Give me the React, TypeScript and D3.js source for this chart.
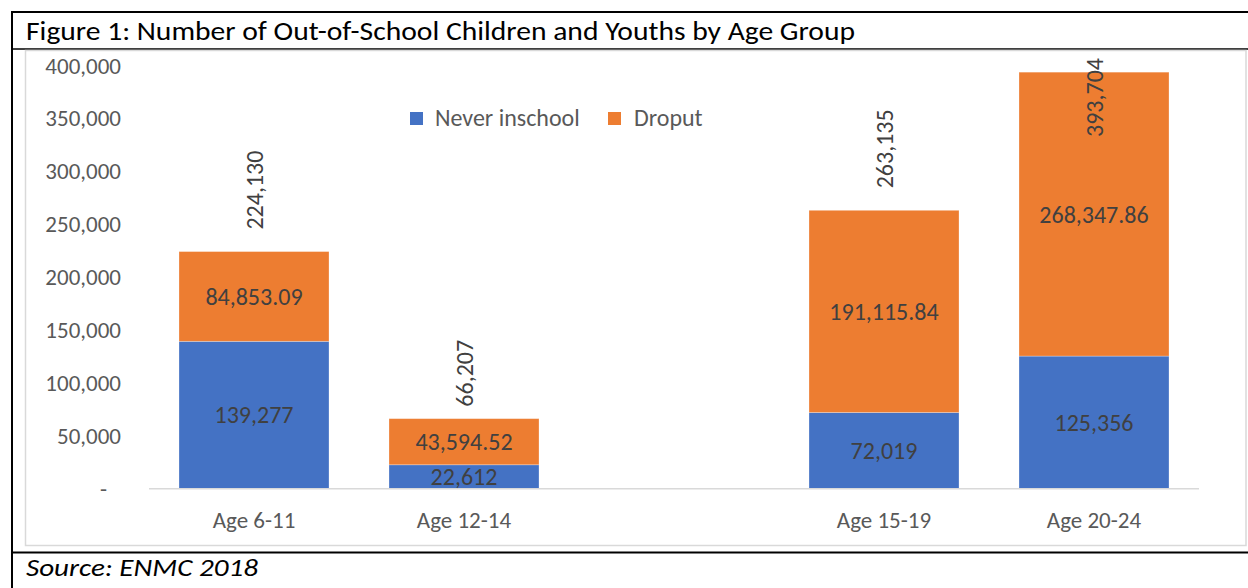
import React from "react";
import * as d3 from "d3";

// Age groups; the empty slot leaves a gap between the two pairs of bars.
const categories = ["Age 6-11", "Age 12-14", "", "Age 15-19", "Age 20-24"];
const neverInSchool: (number | null)[] = [139277, 22612, null, 72019, 125356];
const dropout: (number | null)[] = [84853.09, 43594.52, null, 191115.84, 268347.86];
const totals: (number | null)[] = [224130, 66207, null, 263135, 393704];
const yTicks = [0, 50000, 100000, 150000, 200000, 250000, 300000, 350000, 400000];
const seriesNames = ["Never inschool", "Droput"];

const TITLE = "Figure 1: Number of Out-of-School Children and Youths by Age Group";
const SOURCE = "Source: ENMC 2018";

const W = 1248;
const H = 588;
const FONT = "Carlito, Calibri, Lato, sans-serif";
const BLUE = "#4472C4";
const ORANGE = "#ED7D31";
const AXIS_TEXT = "#595959";
const LABEL_TEXT = "#404040";

// plot area
const PLOT_LEFT = 149;
const PLOT_RIGHT = 1199;
const PLOT_TOP = 58;
const BASELINE = 488.7;
const Y_MAX_PX = 65.5;

// space between a bar's top and its rotated total label
const TOTAL_LABEL_GAP = [22, 12, 0, 22, 22];

export default function App() {
  const x = d3
    .scaleBand<string>()
    .domain(categories.map((_, i) => String(i)))
    .range([PLOT_LEFT, PLOT_RIGHT])
    .paddingInner(60 / 210)
    .paddingOuter(30 / 210);

  const y = d3.scaleLinear().domain([0, 400000]).range([BASELINE, Y_MAX_PX]);

  const rows = categories.map((c, i) => ({
    idx: String(i),
    never: neverInSchool[i] ?? 0,
    drop: dropout[i] ?? 0,
    present: neverInSchool[i] != null,
  }));

  const stack = d3.stack<any>().keys(["never", "drop"]);
  const stacked = stack(rows);
  const colors = [BLUE, ORANGE];
  const fmtInt = d3.format(",");
  const fmtDec = d3.format(",.2f");
  const fmtTick = (v: number) => (v === 0 ? "-" : d3.format(",")(v));

  const bw = x.bandwidth();

  return (
    <svg
      width={W}
      height={H}
      style={{ position: "absolute", left: 0, top: 0, background: "#fff" }}
      fontFamily={FONT}
    >
      {/* frame */}
      <rect x={0} y={0} width={W} height={H} fill="#fff" />
      <line x1={12} y1={12} x2={W} y2={12} stroke="#000" strokeWidth={2} />
      <line x1={12} y1={11} x2={12} y2={H} stroke="#000" strokeWidth={2} />
      <line x1={12} y1={49} x2={W} y2={49} stroke="#000" strokeWidth={1.5} />
      <line x1={12} y1={552.5} x2={W} y2={552.5} stroke="#000" strokeWidth={2} />
      <rect
        x={25.5}
        y={50.5}
        width={1220.5}
        height={495}
        fill="#fff"
        stroke="#d9d9d9"
        strokeWidth={1.5}
      />

      <text x={26} y={39.5} fontSize={26} fill="#000" textLength={829} lengthAdjust="spacingAndGlyphs">
        {TITLE}
      </text>
      <text
        x={26}
        y={576}
        fontSize={24}
        fontStyle="italic"
        fill="#000"
        textLength={232}
        lengthAdjust="spacingAndGlyphs"
      >
        {SOURCE}
      </text>

      {/* y axis labels */}
      {yTicks.map((t) => (
        <text
          key={t}
          x={t === 0 ? 107 : 121}
          y={y(t)}
          dy="0.35em"
          textAnchor="end"
          fontSize={23}
          fill={AXIS_TEXT}
        >
          {fmtTick(t)}
        </text>
      ))}

      {/* stacked bars */}
      {stacked.map((layer, li) => (
        <g key={layer.key} fill={colors[li]}>
          {layer.map((d, i) =>
            rows[i].present ? (
              <rect
                key={i}
                x={x(rows[i].idx)!}
                y={y(d[1])}
                width={bw}
                height={y(d[0]) - y(d[1])}
                stroke="#fff"
                strokeOpacity={0.35}
                strokeWidth={0.8}
              />
            ) : null
          )}
        </g>
      ))}

      {/* baseline */}
      <line x1={PLOT_LEFT} y1={BASELINE} x2={PLOT_RIGHT} y2={BASELINE} stroke="#d9d9d9" strokeWidth={1.5} />

      {/* segment value labels */}
      {stacked.map((layer, li) =>
        layer.map((d, i) =>
          rows[i].present ? (
            <text
              key={`${li}-${i}`}
              x={x(rows[i].idx)! + bw / 2}
              y={y((d[0] + d[1]) / 2)}
              dy="0.35em"
              textAnchor="middle"
              fontSize={24}
              fill={LABEL_TEXT}
            >
              {li === 0 ? fmtInt(neverInSchool[i]!) : fmtDec(dropout[i]!)}
            </text>
          ) : null
        )
      )}

      {/* rotated totals above the bars, kept inside the plot area */}
      {totals.map((t, i) => {
        if (t == null) return null;
        const cx = x(String(i))! + bw / 2 + 1;
        const bottom = y(t) - TOTAL_LABEL_GAP[i];
        const approxLen = 78;
        const clamped = bottom - approxLen < PLOT_TOP;
        const anchorY = clamped ? PLOT_TOP : bottom;
        return (
          <text
            key={i}
            transform={`translate(${cx},${anchorY}) rotate(-90)`}
            textAnchor={clamped ? "end" : "start"}
            dy="0.35em"
            fontSize={24}
            fill={LABEL_TEXT}
          >
            {fmtInt(t)}
          </text>
        );
      })}

      {/* category labels */}
      {categories.map((c, i) =>
        c ? (
          <text
            key={i}
            x={x(String(i))! + bw / 2}
            y={528}
            textAnchor="middle"
            fontSize={23}
            fill={AXIS_TEXT}
          >
            {c}
          </text>
        ) : null
      )}

      {/* legend */}
      <g>
        <rect x={410} y={112} width={13} height={13} fill={BLUE} />
        <text x={435} y={126} fontSize={24} fill={AXIS_TEXT}>
          {seriesNames[0]}
        </text>
        <rect x={608} y={112} width={13} height={13} fill={ORANGE} />
        <text x={634} y={126} fontSize={24} fill={AXIS_TEXT}>
          {seriesNames[1]}
        </text>
      </g>
    </svg>
  );
}
